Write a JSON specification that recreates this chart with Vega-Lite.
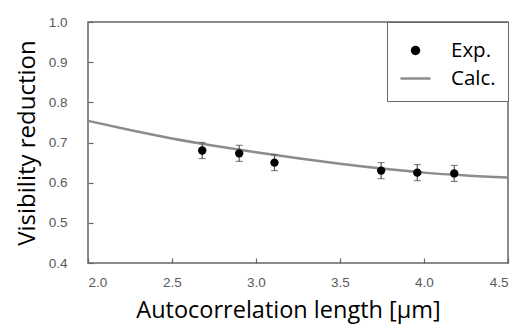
{
  "$schema": "https://vega.github.io/schema/vega-lite/v6.json",
  "width": 420,
  "height": 241,
  "autosize": "none",
  "padding": {"left": 88, "top": 22, "right": 9, "bottom": 61},
  "background": "white",
  "config": {
    "view": {"stroke": "#666666", "strokeWidth": 1.5},
    "axis": {
      "domain": false,
      "grid": false,
      "tickSize": -5,
      "tickColor": "#666666",
      "tickWidth": 1.2,
      "labelFont": "Liberation Sans",
      "labelFontSize": 13.5,
      "labelColor": "#595959",
      "titleFont": "Open Sans",
      "titleFontWeight": "normal",
      "titleColor": "#000000"
    }
  },
  "datasets": {
    "measured": [
      {"length": 2.68, "visibility": 0.680, "lo": 0.660, "hi": 0.700, "series": "Exp."},
      {"length": 2.90, "visibility": 0.673, "lo": 0.653, "hi": 0.693, "series": "Exp."},
      {"length": 3.11, "visibility": 0.650, "lo": 0.630, "hi": 0.670, "series": "Exp."},
      {"length": 3.745, "visibility": 0.630, "lo": 0.610, "hi": 0.650, "series": "Exp."},
      {"length": 3.96, "visibility": 0.625, "lo": 0.605, "hi": 0.645, "series": "Exp."},
      {"length": 4.18, "visibility": 0.623, "lo": 0.603, "hi": 0.643, "series": "Exp."}
    ],
    "calculated": [
      {"length": 2.0, "visibility": 0.754},
      {"length": 2.25, "visibility": 0.731},
      {"length": 2.5, "visibility": 0.710},
      {"length": 2.75, "visibility": 0.692},
      {"length": 3.0, "visibility": 0.676},
      {"length": 3.25, "visibility": 0.661},
      {"length": 3.5, "visibility": 0.647},
      {"length": 3.75, "visibility": 0.635},
      {"length": 4.0, "visibility": 0.625},
      {"length": 4.25, "visibility": 0.618},
      {"length": 4.5, "visibility": 0.613}
    ]
  },
  "encoding": {
    "x": {
      "field": "length",
      "type": "quantitative",
      "scale": {"domain": [2.0, 4.5], "nice": false, "zero": false},
      "axis": {"values": [2.0, 2.5, 3.0, 3.5, 4.0, 4.5], "format": ".1f", "labelPadding": 17, "title": "Autocorrelation length [μm]", "titleFontSize": 23.5, "titlePadding": 10, "titleX": 200}
    },
    "y": {
      "field": "visibility",
      "type": "quantitative",
      "scale": {"domain": [0.4, 1.0], "nice": false, "zero": false},
      "axis": {"values": [0.4, 0.5, 0.6, 0.7, 0.8, 0.9, 1.0], "format": ".1f", "labelPadding": 26, "title": "Visibility reduction", "titleFontSize": 24, "titlePadding": 9}
    }
  },
  "layer": [
    {
      "data": {"name": "calculated"},
      "mark": {"type": "line", "color": "#8c8c8c", "strokeWidth": 2.5, "interpolate": "monotone"}
    },
    {
      "data": {"name": "measured"},
      "mark": {"type": "errorbar", "ticks": {"size": 7, "thickness": 1.2, "color": "#555555"}, "rule": {"color": "#555555", "strokeWidth": 1.2}},
      "encoding": {
        "y": {"field": "lo", "type": "quantitative"},
        "y2": {"field": "hi"}
      }
    },
    {
      "data": {"name": "measured"},
      "mark": {"type": "point", "filled": true, "opacity": 1, "size": 70},
      "encoding": {
        "color": {
          "field": "series",
          "type": "nominal",
          "scale": {"domain": ["Exp.", "Calc."], "range": ["#000000", "#8c8c8c"]},
          "legend": {
            "title": null,
            "orient": "none",
            "legendX": 299,
            "legendY": 0,
            "padding": 12,
            "strokeColor": "#666666",
            "fillColor": "white",
            "labelFont": "Open Sans",
            "labelFontSize": 20.5,
            "labelColor": "#000000",
            "labelOffset": 19,
            "symbolSize": 900,
            "rowPadding": 1,
            "encoding": {
              "symbols": {
                "shape": {"value": {"expr": "datum.value === 'Exp.' ? 'circle' : 'stroke'"}},
                "size": {"value": {"expr": "datum.value === 'Exp.' ? 90 : 900"}},
                "fill": {"value": {"expr": "datum.value === 'Exp.' ? '#000000' : 'transparent'"}},
                "stroke": {"value": {"expr": "datum.value === 'Exp.' ? 'transparent' : '#8c8c8c'"}},
                "strokeWidth": {"value": 2.5},
                "opacity": {"value": 1}
              }
            }
          }
        }
      }
    }
  ]
}
